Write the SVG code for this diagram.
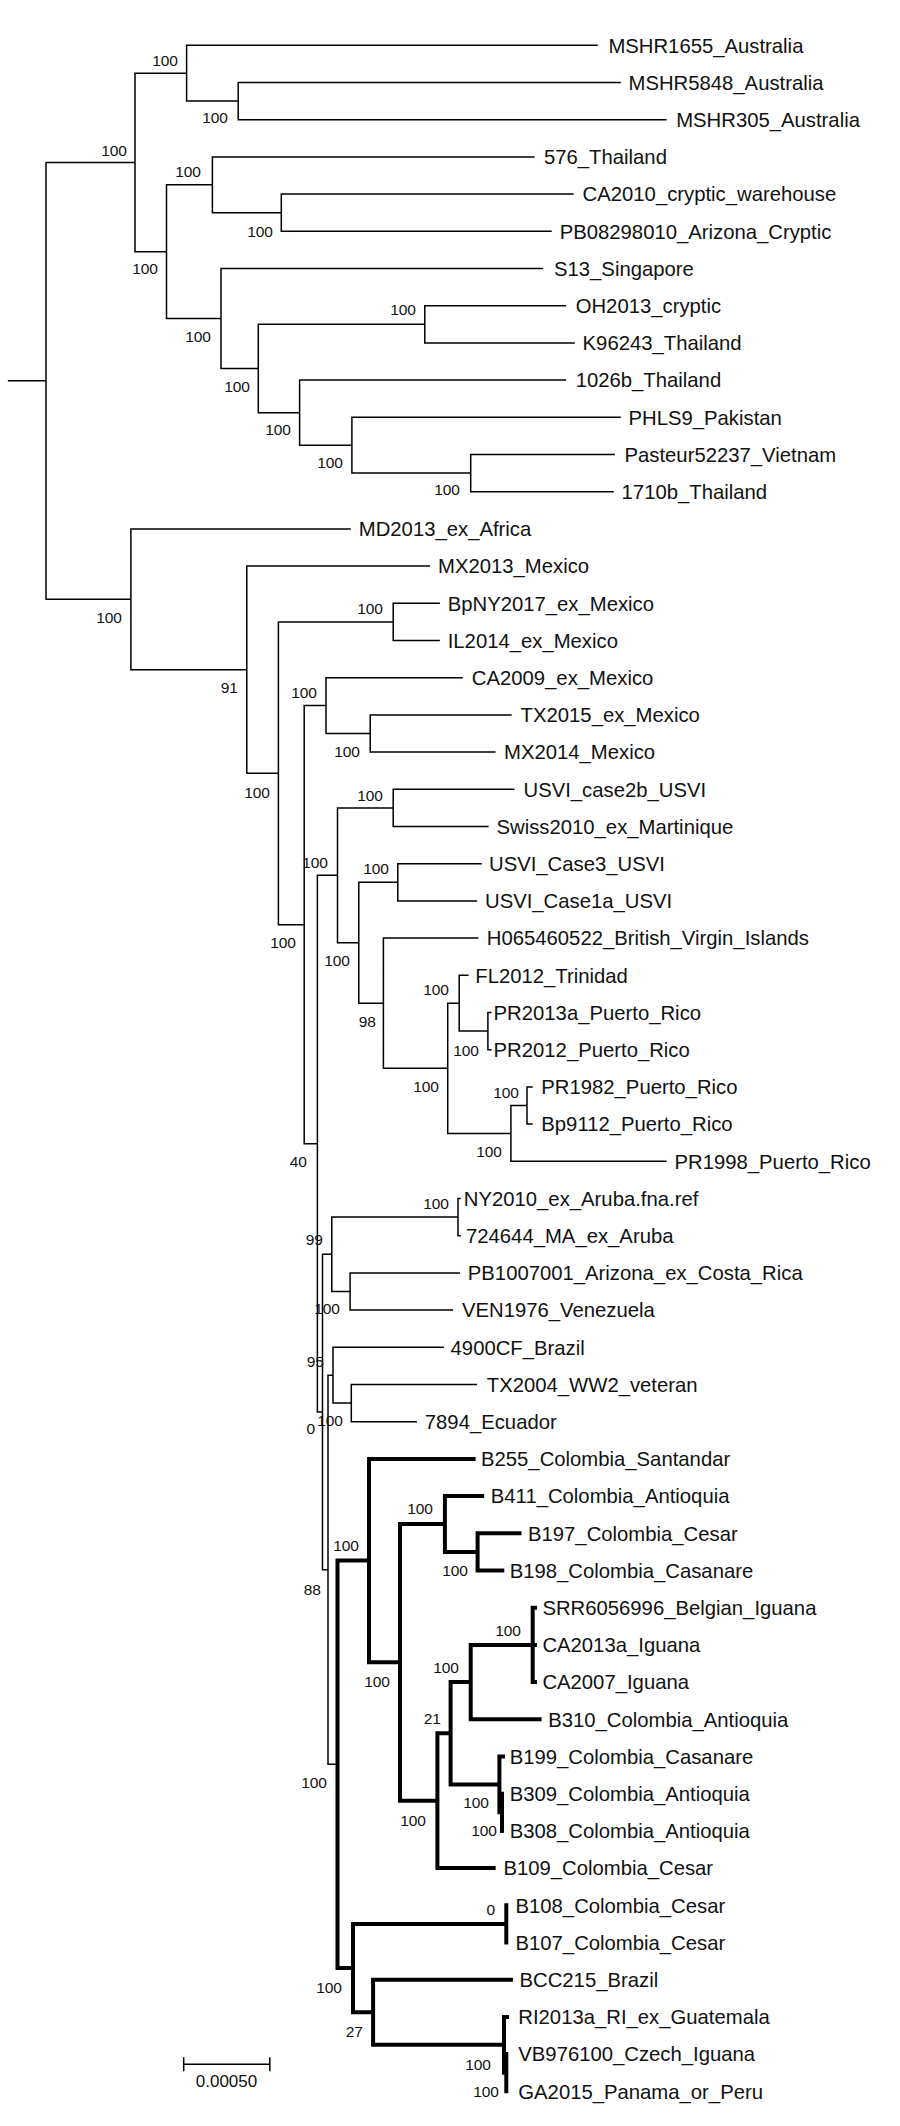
<svg xmlns="http://www.w3.org/2000/svg" width="900" height="2126" viewBox="0 0 900 2126">
<style>
.t{font-family:"Liberation Sans",Arial,sans-serif;font-size:20.3px;fill:#111}
.b{font-family:"Liberation Sans",Arial,sans-serif;font-size:15.5px;fill:#111;text-anchor:end}
.s{font-family:"Liberation Sans",Arial,sans-serif;font-size:17px;fill:#111;text-anchor:middle}
.thin{fill:none;stroke:#000;stroke-width:1.5;stroke-linecap:square}
.thick{fill:none;stroke:#000;stroke-width:4;stroke-linecap:square}
</style>
<rect x="0" y="0" width="900" height="2126" fill="#fff"/>
<g id="connectors">
<path class="thin" d="M8.6 380.85H46 M46 162.4V599.3 M46 162.4H135 M46 599.3H130.9
M135 73.2V251.65 M135 73.2H186.6 M135 251.65H166.5
M186.6 45.3V101.1 M186.6 45.3H597 M186.6 101.1H238.2
M238.2 82.5V119.7 M238.2 82.5H620 M238.2 119.7H665.8
M166.5 184.8V318.5 M166.5 184.8H212.4 M166.5 318.5H221
M212.4 156.9V212.7 M212.4 156.9H533.8 M212.4 212.7H281.3
M281.3 194.1V231.3 M281.3 194.1H572.9 M281.3 231.3H551
M221 268.5V368.5 M221 268.5H542.4 M221 368.5H258.3
M258.3 324.3V412.65 M258.3 324.3H424.8 M258.3 412.65H299.6
M424.8 305.7V342.9 M424.8 305.7H565.4 M424.8 342.9H574
M299.6 380.1V445.2 M299.6 380.1H565.4 M299.6 445.2H351.9
M351.9 417.3V473.1 M351.9 417.3H620 M351.9 473.1H470.7
M470.7 454.5V491.7 M470.7 454.5H614.2 M470.7 491.7H613
M130.9 528.9V669.7 M130.9 528.9H350.1 M130.9 669.7H246.8
M246.8 566.1V773.3 M246.8 566.1H429.4 M246.8 773.3H278.4
M278.4 621.9V924.65 M278.4 621.9H393.2 M278.4 924.65H304.2
M393.2 603.3V640.5 M393.2 603.3H439.1 M393.2 640.5H439.1
M304.2 705.6V1143.7 M304.2 705.6H326 M304.2 1143.7H317.4
M326 677.7V733.5 M326 677.7H462 M326 733.5H370.2
M370.2 714.9V752.1 M370.2 714.9H510.9 M370.2 752.1H494.8
M317.4 875.3V1412.05 M317.4 875.3H337.5 M317.4 1412.05H322.5
M337.5 807.9V942.75 M337.5 807.9H393.2 M337.5 942.75H358.8
M393.2 789.3V826.5 M393.2 789.3H513.7 M393.2 826.5H487.9
M358.8 882.3V1003.2 M358.8 882.3H397.8 M358.8 1003.2H383.4
M397.8 863.7V900.9 M397.8 863.7H481 M397.8 900.9H476.4
M383.4 938.1V1068.3 M383.4 938.1H477.6 M383.4 1068.3H447.7
M447.7 1003.2V1133.4 M447.7 1003.2H459.2 M447.7 1133.4H510.9
M459.2 975.3V1031.1 M459.2 975.3H467.8 M459.2 1031.1H487.9
M487.9 1012.5V1049.7 M487.9 1012.5H490.8 M487.9 1049.7H490.8
M510.9 1105.5V1161.3 M510.9 1105.5H527 M510.9 1161.3H665.8
M527 1086.9V1124.1 M527 1086.9H532 M527 1124.1H532
M322.5 1254.3V1569.8 M322.5 1254.3H331.8 M322.5 1569.8H328
M331.8 1217.1V1291.5 M331.8 1217.1H458 M331.8 1291.5H350.1
M458 1198.5V1235.7 M458 1198.5H460 M458 1235.7H460
M350.1 1272.9V1310.1 M350.1 1272.9H459.2 M350.1 1310.1H452.3
M328 1375.2V1764.35 M328 1375.2H333 M328 1764.35H337.5
M333 1347.3V1403.1 M333 1347.3H443.1 M333 1403.1H351.3
M351.3 1384.5V1421.7 M351.3 1384.5H476.4 M351.3 1421.7H416.2"/>
<path class="thick" d="M337.5 1560.6V1968.1 M337.5 1560.6H369 M337.5 1968.1H353
M369 1458.9V1662.35 M369 1458.9H473.6 M369 1662.35H400
M400 1524V1800.7 M400 1524H444.9 M400 1800.7H437.4
M444.9 1496.1V1551.9 M444.9 1496.1H482.2 M444.9 1551.9H477.6
M477.6 1533.3V1570.5 M477.6 1533.3H519.5 M477.6 1570.5H502.3
M437.4 1733.25V1868.1 M437.4 1733.25H450.6 M437.4 1868.1H493.6
M450.6 1682.1V1784.4 M450.6 1682.1H470.7 M450.6 1784.4H499.4
M470.7 1644.9V1719.3 M470.7 1644.9H532.7 M470.7 1719.3H539.6
M532.7 1607.7V1682.1 M532.7 1607.7H535 M532.7 1644.9H535 M532.7 1682.1H535
M499.4 1756.5V1812.3 M499.4 1756.5H503 M499.4 1812.3H502
M502 1793.7V1830.9
M353 1923.9V2012.25 M353 1923.9H506.3 M353 2012.25H373.1
M506.3 1905.3V1942.5
M373.1 1979.7V2044.8 M373.1 1979.7H510.9 M373.1 2044.8H504
M504 2016.9V2072.7 M504 2016.9H507 M504 2072.7H506.3
M506.3 2054.1V2091.3"/>
</g>
<g id="leaves">
<g id="n1"><text class="t" x="608.4" y="52.5">MSHR1655_Australia</text></g>
<g id="n2"><text class="t" x="628.5" y="89.7">MSHR5848_Australia</text></g>
<g id="n3"><text class="t" x="676.2" y="126.9">MSHR305_Australia</text></g>
<g id="n4"><text class="t" x="544" y="164.1">576_Thailand</text></g>
<g id="n5"><text class="t" x="582.6" y="201.3">CA2010_cryptic_warehouse</text></g>
<g id="n6"><text class="t" x="559.7" y="238.5">PB08298010_Arizona_Cryptic</text></g>
<g id="n7"><text class="t" x="554" y="275.7">S13_Singapore</text></g>
<g id="n8"><text class="t" x="575.7" y="312.9">OH2013_cryptic</text></g>
<g id="n9"><text class="t" x="582.6" y="350.1">K96243_Thailand</text></g>
<g id="n10"><text class="t" x="575.7" y="387.3">1026b_Thailand</text></g>
<g id="n11"><text class="t" x="628.5" y="424.5">PHLS9_Pakistan</text></g>
<g id="n12"><text class="t" x="624.5" y="461.7">Pasteur52237_Vietnam</text></g>
<g id="n13"><text class="t" x="621.6" y="498.9">1710b_Thailand</text></g>
<g id="n14"><text class="t" x="358.8" y="536.1">MD2013_ex_Africa</text></g>
<g id="n15"><text class="t" x="438" y="573.3">MX2013_Mexico</text></g>
<g id="n16"><text class="t" x="447.7" y="610.5">BpNY2017_ex_Mexico</text></g>
<g id="n17"><text class="t" x="447.7" y="647.7">IL2014_ex_Mexico</text></g>
<g id="n18"><text class="t" x="471.8" y="684.9">CA2009_ex_Mexico</text></g>
<g id="n19"><text class="t" x="520.6" y="722.1">TX2015_ex_Mexico</text></g>
<g id="n20"><text class="t" x="504" y="759.3">MX2014_Mexico</text></g>
<g id="n21"><text class="t" x="523.5" y="796.5">USVI_case2b_USVI</text></g>
<g id="n22"><text class="t" x="496.5" y="833.7">Swiss2010_ex_Martinique</text></g>
<g id="n23"><text class="t" x="489" y="870.9">USVI_Case3_USVI</text></g>
<g id="n24"><text class="t" x="485" y="908.1">USVI_Case1a_USVI</text></g>
<g id="n25"><text class="t" x="486.8" y="945.3">H065460522_British_Virgin_Islands</text></g>
<g id="n26"><text class="t" x="475.3" y="982.5">FL2012_Trinidad</text></g>
<g id="n27"><text class="t" x="493.6" y="1019.7">PR2013a_Puerto_Rico</text></g>
<g id="n28"><text class="t" x="493.6" y="1056.9">PR2012_Puerto_Rico</text></g>
<g id="n29"><text class="t" x="541.3" y="1094.1">PR1982_Puerto_Rico</text></g>
<g id="n30"><text class="t" x="541.3" y="1131.3">Bp9112_Puerto_Rico</text></g>
<g id="n31"><text class="t" x="674.5" y="1168.5">PR1998_Puerto_Rico</text></g>
<g id="n32"><text class="t" x="463.8" y="1205.7">NY2010_ex_Aruba.fna.ref</text></g>
<g id="n33"><text class="t" x="466" y="1242.9">724644_MA_ex_Aruba</text></g>
<g id="n34"><text class="t" x="467.8" y="1280.1">PB1007001_Arizona_ex_Costa_Rica</text></g>
<g id="n35"><text class="t" x="462" y="1317.3">VEN1976_Venezuela</text></g>
<g id="n36"><text class="t" x="450.6" y="1354.5">4900CF_Brazil</text></g>
<g id="n37"><text class="t" x="486.8" y="1391.7">TX2004_WW2_veteran</text></g>
<g id="n38"><text class="t" x="424.8" y="1428.9">7894_Ecuador</text></g>
<g id="n39"><text class="t" x="481" y="1466.1">B255_Colombia_Santandar</text></g>
<g id="n40"><text class="t" x="490.8" y="1503.3">B411_Colombia_Antioquia</text></g>
<g id="n41"><text class="t" x="528" y="1540.5">B197_Colombia_Cesar</text></g>
<g id="n42"><text class="t" x="509.7" y="1577.7">B198_Colombia_Casanare</text></g>
<g id="n43"><text class="t" x="542.4" y="1614.9">SRR6056996_Belgian_Iguana</text></g>
<g id="n44"><text class="t" x="542.4" y="1652.1">CA2013a_Iguana</text></g>
<g id="n45"><text class="t" x="542.4" y="1689.3">CA2007_Iguana</text></g>
<g id="n46"><text class="t" x="548.2" y="1726.5">B310_Colombia_Antioquia</text></g>
<g id="n47"><text class="t" x="509.7" y="1763.7">B199_Colombia_Casanare</text></g>
<g id="n48"><text class="t" x="509.7" y="1800.9">B309_Colombia_Antioquia</text></g>
<g id="n49"><text class="t" x="509.7" y="1838.1">B308_Colombia_Antioquia</text></g>
<g id="n50"><text class="t" x="503.4" y="1875.3">B109_Colombia_Cesar</text></g>
<g id="n51"><text class="t" x="515.5" y="1912.5">B108_Colombia_Cesar</text></g>
<g id="n52"><text class="t" x="515.5" y="1949.7">B107_Colombia_Cesar</text></g>
<g id="n53"><text class="t" x="519.5" y="1986.9">BCC215_Brazil</text></g>
<g id="n54"><text class="t" x="518.3" y="2024.1">RI2013a_RI_ex_Guatemala</text></g>
<g id="n55"><text class="t" x="518.3" y="2061.3">VB976100_Czech_Iguana</text></g>
<g id="n56"><text class="t" x="518.3" y="2098.5">GA2015_Panama_or_Peru</text></g>
</g>
<g id="bootstrap">
<g id="bA"><text class="b" x="127" y="156">100</text></g>
<g id="bB"><text class="b" x="178" y="66">100</text></g>
<g id="bC"><text class="b" x="228" y="123">100</text></g>
<g id="bD"><text class="b" x="201" y="177">100</text></g>
<g id="bE"><text class="b" x="158" y="274">100</text></g>
<g id="bF"><text class="b" x="273" y="237">100</text></g>
<g id="bG"><text class="b" x="211" y="342">100</text></g>
<g id="bH"><text class="b" x="416" y="315">100</text></g>
<g id="bI"><text class="b" x="250" y="392">100</text></g>
<g id="bJ"><text class="b" x="291" y="435">100</text></g>
<g id="bK"><text class="b" x="343" y="468">100</text></g>
<g id="bL"><text class="b" x="460" y="495">100</text></g>
<g id="bM"><text class="b" x="122" y="623">100</text></g>
<g id="bN"><text class="b" x="238" y="693">91</text></g>
<g id="bP"><text class="b" x="383" y="614">100</text></g>
<g id="bQ"><text class="b" x="317" y="698">100</text></g>
<g id="bR"><text class="b" x="360" y="757">100</text></g>
<g id="bO"><text class="b" x="270" y="798">100</text></g>
<g id="bU"><text class="b" x="383" y="801">100</text></g>
<g id="bT"><text class="b" x="328" y="868">100</text></g>
<g id="bW"><text class="b" x="389" y="874">100</text></g>
<g id="bS"><text class="b" x="296" y="948">100</text></g>
<g id="bX"><text class="b" x="350" y="966">100</text></g>
<g id="bY"><text class="b" x="376" y="1027">98</text></g>
<g id="bZ"><text class="b" x="449" y="995">100</text></g>
<g id="bAA"><text class="b" x="479" y="1056">100</text></g>
<g id="bAB"><text class="b" x="439" y="1092">100</text></g>
<g id="bAD"><text class="b" x="519" y="1098">100</text></g>
<g id="bAC"><text class="b" x="502" y="1157">100</text></g>
<g id="bV"><text class="b" x="307" y="1167">40</text></g>
<g id="bAE"><text class="b" x="449" y="1209">100</text></g>
<g id="bAF"><text class="b" x="323" y="1245">99</text></g>
<g id="bAG"><text class="b" x="340" y="1314">100</text></g>
<g id="bAI"><text class="b" x="324" y="1367">95</text></g>
<g id="bAJ"><text class="b" x="343" y="1426">100</text></g>
<g id="bP1"><text class="b" x="315" y="1434">0</text></g>
<g id="bCW"><text class="b" x="433" y="1514">100</text></g>
<g id="bCU"><text class="b" x="359" y="1551">100</text></g>
<g id="bCX"><text class="b" x="468" y="1576">100</text></g>
<g id="bP2"><text class="b" x="321" y="1595">88</text></g>
<g id="bDB"><text class="b" x="521" y="1636">100</text></g>
<g id="bDA"><text class="b" x="459" y="1673">100</text></g>
<g id="bCV"><text class="b" x="390" y="1687">100</text></g>
<g id="bCZ"><text class="b" x="441" y="1724">21</text></g>
<g id="bCR"><text class="b" x="327" y="1788">100</text></g>
<g id="bDC"><text class="b" x="489" y="1808">100</text></g>
<g id="bCY"><text class="b" x="426" y="1826">100</text></g>
<g id="bDD"><text class="b" x="497" y="1836">100</text></g>
<g id="bDF"><text class="b" x="495" y="1915">0</text></g>
<g id="bDE"><text class="b" x="342" y="1993">100</text></g>
<g id="bDG"><text class="b" x="363" y="2037">27</text></g>
<g id="bDH"><text class="b" x="491" y="2070">100</text></g>
<g id="bDI"><text class="b" x="499" y="2097">100</text></g>
</g>
<g id="scalebar">
<path class="thin" d="M183.7 2064.3H269.8 M183.7 2058V2070.5 M269.8 2058V2070.5"/>
<text class="s" x="226.5" y="2087">0.00050</text>
</g>
</svg>
